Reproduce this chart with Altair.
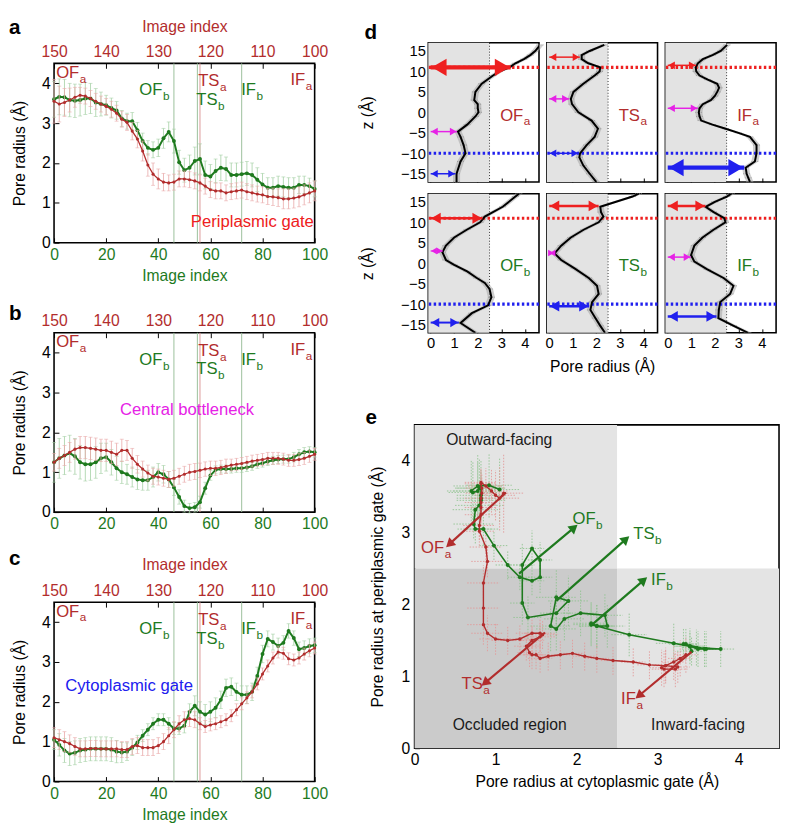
import math
import altair as alt
import numpy as np
import pandas as pd

FONT = "Liberation Sans"
GREEN = "#1e7a1e"
RED = "#b22d2d"
GREEN_LIGHT = "#a3cfa3"
RED_LIGHT = "#e8a6a6"
LINE_GREEN = "#9bbf9b"
LINE_RED = "#dc9a9a"
BRIGHT_RED = "#ee2020"
MAGENTA = "#e622e6"
BLUE = "#2020ee"

# ---------------- panels a-c : image index axes ----------------
img_green = list(range(0, 101, 2))       # bottom axis (green path)
img_red = list(range(150, 99, -1))       # top axis (red path)

a_green = [3.60, 3.66, 3.65, 3.58, 3.56, 3.58, 3.62, 3.62, 3.52, 3.48,
           3.45, 3.38, 3.32, 3.12, 3.05, 3.05, 2.82, 2.55, 2.38, 2.33,
           2.38, 2.62, 2.78, 2.55, 2.02, 1.82, 1.88, 2.05, 2.10, 1.70,
           1.66, 1.80, 1.88, 1.85, 1.70, 1.70, 1.72, 1.74, 1.70, 1.58,
           1.46, 1.38, 1.38, 1.42, 1.40, 1.38, 1.38, 1.45, 1.45, 1.42, 1.35]
a_green_err = [0.45, 0.45, 0.45, 0.42, 0.42, 0.4, 0.4, 0.38, 0.35, 0.3,
               0.25, 0.25, 0.22, 0.2, 0.2, 0.22, 0.2, 0.2, 0.18, 0.2,
               0.22, 0.25, 0.25, 0.3, 0.3, 0.3, 0.32, 0.35, 0.38, 0.35,
               0.3, 0.3, 0.32, 0.3, 0.3, 0.3, 0.3, 0.3, 0.3, 0.3,
               0.28, 0.25, 0.25, 0.25, 0.25, 0.25, 0.25, 0.22, 0.22, 0.2, 0.2]
a_red = [3.55, 3.48, 3.52, 3.58, 3.65, 3.70, 3.68, 3.62, 3.55, 3.48,
         3.42, 3.35, 3.25, 3.10, 3.02, 2.80, 2.60, 2.30, 1.95, 1.72,
         1.60, 1.52, 1.50, 1.52, 1.60, 1.60, 1.58, 1.55, 1.50, 1.42,
         1.33, 1.30, 1.30, 1.25, 1.28, 1.30, 1.32, 1.28, 1.25, 1.22,
         1.20, 1.16, 1.15, 1.13, 1.10, 1.10, 1.12, 1.15, 1.20, 1.25, 1.30]
a_red_err = [0.55, 0.45, 0.35, 0.3, 0.25, 0.2, 0.2, 0.2, 0.2, 0.2,
             0.2, 0.2, 0.2, 0.2, 0.2, 0.22, 0.22, 0.25, 0.28, 0.28,
             0.25, 0.22, 0.2, 0.2, 0.2, 0.2, 0.2, 0.2, 0.2, 0.2,
             0.2, 0.2, 0.2, 0.2, 0.2, 0.2, 0.2, 0.2, 0.2, 0.2,
             0.2, 0.2, 0.22, 0.22, 0.25, 0.25, 0.25, 0.25, 0.25, 0.25, 0.25]

b_green = [1.25, 1.35, 1.42, 1.48, 1.40, 1.25, 1.20, 1.20, 1.25, 1.35,
           1.38, 1.25, 1.10, 1.00, 0.95, 0.88, 0.82, 0.80, 0.80, 0.88,
           1.00, 0.95, 0.82, 0.62, 0.38, 0.15, 0.10, 0.12, 0.25, 0.60,
           0.92, 1.06, 1.08, 1.08, 1.08, 1.10, 1.10, 1.12, 1.15, 1.20,
           1.23, 1.27, 1.30, 1.32, 1.33, 1.33, 1.38, 1.45, 1.50, 1.52, 1.50]
b_green_err = [0.5, 0.5, 0.48, 0.45, 0.45, 0.42, 0.42, 0.4, 0.4, 0.38,
               0.35, 0.32, 0.3, 0.28, 0.25, 0.25, 0.25, 0.25, 0.25, 0.25,
               0.22, 0.22, 0.2, 0.2, 0.18, 0.15, 0.12, 0.12, 0.15, 0.15,
               0.12, 0.1, 0.1, 0.1, 0.1, 0.1, 0.1, 0.1, 0.1, 0.1,
               0.1, 0.1, 0.1, 0.1, 0.1, 0.1, 0.12, 0.12, 0.12, 0.12, 0.12]
b_red = [1.25, 1.35, 1.42, 1.50, 1.58, 1.62, 1.62, 1.60, 1.58, 1.55,
         1.55, 1.50, 1.45, 1.55, 1.55, 1.35, 1.20, 1.08, 0.98, 0.90,
         0.88, 0.85, 0.82, 0.85, 0.90, 0.95, 1.00, 1.02, 1.05, 1.08,
         1.10, 1.10, 1.12, 1.15, 1.18, 1.20, 1.22, 1.25, 1.28, 1.30,
         1.32, 1.35, 1.35, 1.35, 1.33, 1.30, 1.30, 1.32, 1.35, 1.40, 1.45]
b_red_err = [0.22, 0.25, 0.25, 0.25, 0.25, 0.28, 0.28, 0.28, 0.28, 0.28,
             0.28, 0.28, 0.28, 0.28, 0.25, 0.25, 0.22, 0.2, 0.2, 0.2,
             0.2, 0.2, 0.2, 0.2, 0.2, 0.2, 0.2, 0.2, 0.18, 0.18,
             0.18, 0.18, 0.18, 0.18, 0.15, 0.15, 0.15, 0.15, 0.15, 0.15,
             0.15, 0.15, 0.15, 0.15, 0.15, 0.15, 0.15, 0.15, 0.15, 0.15, 0.15]

c_green = [1.05, 0.92, 0.78, 0.70, 0.72, 0.78, 0.80, 0.82, 0.82, 0.82,
           0.82, 0.80, 0.75, 0.73, 0.75, 0.85, 0.98, 1.15, 1.30, 1.45,
           1.55, 1.55, 1.45, 1.33, 1.33, 1.40, 1.75, 1.90, 1.75, 1.68,
           1.75, 1.85, 2.05, 2.35, 2.38, 2.25, 2.18, 2.18, 2.25, 2.65,
           3.20, 3.58, 3.50, 3.40, 3.48, 3.78, 3.60, 3.32, 3.35, 3.40, 3.42]
c_green_err = [0.25, 0.28, 0.3, 0.3, 0.3, 0.3, 0.3, 0.3, 0.3, 0.3,
               0.3, 0.3, 0.28, 0.25, 0.22, 0.2, 0.18, 0.15, 0.15, 0.15,
               0.15, 0.15, 0.15, 0.15, 0.15, 0.18, 0.2, 0.25, 0.25, 0.25,
               0.25, 0.25, 0.22, 0.22, 0.22, 0.22, 0.22, 0.22, 0.22, 0.22,
               0.22, 0.2, 0.2, 0.2, 0.18, 0.18, 0.18, 0.18, 0.18, 0.18, 0.18]
c_red = [1.10, 1.05, 1.00, 0.95, 0.88, 0.82, 0.82, 0.83, 0.83, 0.82,
         0.82, 0.82, 0.82, 0.80, 0.80, 0.88, 0.90, 0.85, 0.85, 0.85,
         0.90, 1.00, 1.15, 1.30, 1.45, 1.55, 1.58, 1.55, 1.45, 1.38,
         1.42, 1.45, 1.50, 1.55, 1.65, 1.80, 1.95, 2.10, 2.25, 2.45,
         2.70, 2.90, 3.10, 3.25, 3.22, 3.08, 3.05, 3.10, 3.20, 3.28, 3.35]
c_red_err = [0.25, 0.25, 0.25, 0.22, 0.22, 0.2, 0.2, 0.2, 0.2, 0.2,
             0.2, 0.2, 0.2, 0.2, 0.2, 0.2, 0.2, 0.2, 0.2, 0.2,
             0.2, 0.2, 0.2, 0.2, 0.2, 0.2, 0.2, 0.2, 0.15, 0.15,
             0.15, 0.15, 0.15, 0.15, 0.15, 0.15, 0.15, 0.15, 0.15, 0.15,
             0.15, 0.15, 0.15, 0.15, 0.15, 0.15, 0.15, 0.15, 0.15, 0.15, 0.15]

state_line_x = [46, 55, 56, 72]
state_line_color = [LINE_GREEN, LINE_GREEN, LINE_RED, LINE_GREEN]
st_main = ["OF", "OF", "TS", "TS", "IF", "IF"]
st_sub = ["a", "b", "a", "b", "b", "a"]
st_x = [0.8, 32.7, 55.3, 54.6, 71.8, 90.7]
st_y = [4.14, 3.70, 3.92, 3.46, 3.70, 3.95]
st_col = [RED, GREEN, RED, GREEN, GREEN, RED]

# ---------------- panel d : pore profiles ----------------
ofa_z = [-17, -15, -12, -10, -8, -6, -4.7, -3, -1, 0, 1, 2, 3, 5, 7, 9, 10, 11, 12, 13, 14, 15, 16.5]
ofa_r = [1.1, 1.1, 1.27, 1.48, 1.4, 1.27, 1.16, 1.55, 1.9, 2.03, 2.0, 2.0, 1.85, 1.9, 2.17, 2.65, 2.92,
         3.35, 3.6, 3.96, 4.23, 4.44, 4.65]
tsa_z = [-17, -15, -13, -11, -10, -8, -6, -4, -2, 0, 2, 3.3, 5, 7, 9, 10, 11, 12, 13, 14, 15, 16.5]
tsa_r = [2.0, 1.72, 1.45, 1.28, 1.31, 1.59, 1.93, 2.07, 1.8, 1.24, 0.97, 0.92, 1.03, 1.45, 1.93, 2.14,
         2.17, 1.66, 1.38, 1.38, 1.72, 2.34]
ifa_z = [-17, -16, -15, -13.5, -12, -10, -8, -6, -5, -4, -3, -2, -1, 0, 1, 2, 3, 4, 5, 6, 7, 8, 9, 10,
         11, 12, 13, 14, 15, 16.5]
ifa_r = [3.49, 3.42, 3.35, 3.31, 3.7, 3.77, 3.77, 3.49, 3.0, 2.46, 1.9, 1.42, 1.35, 1.32, 1.35, 1.49,
         1.83, 2.0, 2.1, 2.18, 2.1, 1.7, 1.35, 1.21, 1.19, 1.28, 1.49, 1.9, 2.25, 2.52]
ofb_z = [-17, -14.6, -12.2, -10.3, -8.3, -6.3, -4.8, -3.6, -2, -0.4, 0.8, 2.7, 4.3, 6.3, 8.25, 10,
         11.4, 13.8, 16.3, 17]
ofb_r = [1.9, 1.27, 1.75, 2.44, 2.58, 2.5, 2.3, 1.96, 1.55, 1.0, 0.65, 0.5, 0.65, 1.0, 1.55, 2.1, 2.3,
         3.06, 3.6, 3.75]
tsb_z = [-17, -15.3, -13.4, -11.4, -9.5, -7.5, -5.5, -3.6, -1.2, 0.8, 2.4, 4.3, 6.3, 8.25, 10, 11.4,
         12.5, 13.8, 16.3, 17]
tsb_r = [2.37, 2.17, 1.96, 1.75, 1.82, 2.1, 2.03, 1.68, 1.06, 0.51, 0.23, 0.51, 0.92, 1.48, 2.1, 2.3,
         2.2, 2.17, 3.54, 3.8]
ifb_z = [-17, -15.3, -13.4, -11.4, -9.5, -7.5, -5.5, -3.6, -1.5, 0.4, 2, 4.3, 6.3, 8.25, 10, 11, 12.5,
         13.8, 15, 16.3, 17]
ifb_r = [3.41, 2.8, 2.15, 2.17, 2.23, 2.65, 2.79, 2.37, 1.68, 1.13, 0.99, 1.13, 1.48, 1.96, 2.45, 2.4,
         1.95, 1.61, 2.0, 2.51, 2.7]

# arrows: (z, radius, colour, line width)
arr_ofa = [(11, 3.4, BRIGHT_RED, 4.5), (-4.7, 1.12, MAGENTA, 1.5), (-15, 1.05, BLUE, 1.5)]
arr_tsa = [(13.5, 1.3, BRIGHT_RED, 1.5), (3.3, 0.85, MAGENTA, 1.5), (-10, 1.25, BLUE, 1.5)]
arr_ifa = [(11.5, 1.2, BRIGHT_RED, 1.5), (1, 1.28, MAGENTA, 1.5), (-13.5, 3.25, BLUE, 4.5)]
arr_ofb = [(11, 2.2, BRIGHT_RED, 2.5), (3, 0.52, MAGENTA, 1.2), (-14.5, 1.2, BLUE, 2.0)]
arr_tsb = [(14, 2.1, BRIGHT_RED, 2.5), (2.5, 0.22, MAGENTA, 1.2), (-10.5, 1.7, BLUE, 2.5)]
arr_ifb = [(14, 1.6, BRIGHT_RED, 2.5), (1.5, 0.98, MAGENTA, 1.5), (-13, 2.07, BLUE, 2.5)]
gate_z = [11, -10]
gate_color = [BRIGHT_RED, BLUE]

# ---------------- panel e ----------------
region_x0 = [0, 0, 2.5]
region_x1 = [2.5, 2.5, 4.5]
region_y0 = [2.5, 0, 0]
region_y1 = [4.5, 2.5, 2.5]
region_fill = ["#e4e4e4", "#cbcbcb", "#e4e4e4"]
region_text = ["Outward-facing", "Occluded region", "Inward-facing"]
region_tx = [0.39, 0.47, 2.92]
region_ty = [4.22, 0.25, 0.25]

e_lab_main = ["OF", "TS", "IF", "OF", "TS", "IF"]
e_lab_sub = ["a", "a", "a", "b", "b", "b"]
e_lab_x = [0.08, 0.58, 2.55, 1.95, 2.70, 2.92]
e_lab_y = [2.72, 0.82, 0.62, 3.12, 2.91, 2.27]
e_lab_col = [RED, RED, RED, GREEN, GREEN, GREEN]
e_arr_x1 = [1.13, 1.61, 3.42, 1.29, 1.75, 2.17]
e_arr_y1 = [3.56, 1.61, 1.34, 2.43, 2.05, 1.70]
e_arr_x2 = [0.43, 0.87, 2.77, 1.97, 2.61, 2.83]
e_arr_y2 = [2.84, 0.91, 0.73, 3.07, 2.91, 2.34]

PW, PH = 266, 183
DW, DH = 113, 142
EW, EH = 372, 330

CHAR_W = {"O": 0.778, "F": 0.611, "T": 0.611, "S": 0.667, "I": 0.278}


def text_width(s, size):
    return sum(CHAR_W.get(ch, 0.556) for ch in s) * size


def spacer(w, h):
    return (alt.Chart(pd.DataFrame({"v": [0]})).mark_point(opacity=0)
            .encode(x=alt.X("v:Q", axis=None), y=alt.Y("v:Q", axis=None))
            .properties(width=w, height=h, view=alt.ViewBackground(strokeOpacity=0)))


def panel_letter(letter, dx, dy):
    # bold panel letter placed relative to the plot's top-left corner
    return (alt.Chart(pd.DataFrame({"t": [letter]}))
            .mark_text(align="left", baseline="top", fontSize=21, fontWeight="bold", color="black")
            .encode(text="t:N", x=alt.value(dx), y=alt.value(dy)))


def label_layers(X, Y, xs, ys, mains, subs, cols, size, subsize):
    out = []
    for x, y, m, s, c in zip(xs, ys, mains, subs, cols):
        df = pd.DataFrame({"x": [x], "y": [y], "m": [m], "s": [s]})
        out.append(alt.Chart(df).mark_text(align="left", baseline="alphabetic", fontSize=size, color=c)
                   .encode(x=X("x"), y=Y("y"), text="m:N"))
        out.append(alt.Chart(df).mark_text(align="left", baseline="alphabetic", fontSize=subsize, color=c,
                                           dx=text_width(m, size) + 0.5, dy=5)
                   .encode(x=X("x"), y=Y("y"), text="s:N"))
    return out


def errs(df, X, Y, color):
    bars = alt.Chart(df).mark_rule(color=color, strokeWidth=0.8).encode(x=X("x"), y=Y("lo"), y2="hi")
    caps = (alt.Chart(df).transform_fold(["lo", "hi"], as_=["k", "v"])
            .mark_tick(orient="horizontal", size=4, thickness=0.8, color=color)
            .encode(x=X("x"), y=Y("v")))
    return [bars, caps]


def gate_panel(letter, g, ge, r, re, gtext, gx, gy, gcol, top_title, bottom_title, ldy):
    ys = alt.Scale(domain=[0, 4.5], nice=False, zero=False)
    yax = alt.Axis(values=[0, 1, 2, 3, 4], title="Pore radius (Å)", offset=-5, labelPadding=4, titlePadding=14)

    def Y(f):
        return alt.Y(f"{f}:Q", scale=ys, axis=yax)

    gax = alt.Axis(values=[0, 20, 40, 60, 80, 100], orient="bottom", labelColor=GREEN, titleColor=GREEN,
                   offset=-5, labelPadding=4, titlePadding=6,
                   title=("Image index" if bottom_title else None))
    gs = alt.Scale(domain=[0, 100], nice=False, zero=False)

    def XG(f):
        return alt.X(f"{f}:Q", scale=gs, axis=gax)

    rax = alt.Axis(values=[150, 140, 130, 120, 110, 100], orient="top", labelColor=RED, titleColor=RED,
                   offset=-5, labelPadding=4, titlePadding=10,
                   title=("Image index" if top_title else None))
    rs = alt.Scale(domain=[100, 150], reverse=True, nice=False, zero=False)

    def XR(f):
        return alt.X(f"{f}:Q", scale=rs, axis=rax)

    gdf = pd.DataFrame({"x": img_green, "y": g,
                        "lo": np.round(np.array(g) - np.array(ge), 3),
                        "hi": np.round(np.array(g) + np.array(ge), 3)})
    rdf = pd.DataFrame({"x": img_red, "y": r,
                        "lo": np.round(np.array(r) - np.array(re), 3),
                        "hi": np.round(np.array(r) + np.array(re), 3)})
    vl = pd.DataFrame({"x": state_line_x, "c": state_line_color})
    tdf = pd.DataFrame({"x": [gx], "y": [gy], "t": [gtext]})

    g_layers = [alt.Chart(vl).mark_rule(strokeWidth=1).encode(x=XG("x"), color=alt.Color("c:N", scale=None))]
    g_layers += errs(gdf, XG, Y, GREEN_LIGHT)
    g_layers += [
        alt.Chart(gdf).mark_line(color=GREEN, strokeWidth=2).encode(x=XG("x"), y=Y("y")),
        alt.Chart(gdf).mark_point(filled=True, size=16, color=GREEN, opacity=1).encode(x=XG("x"), y=Y("y")),
        alt.Chart(tdf).mark_text(align="left", baseline="alphabetic", fontSize=17, color=gcol)
        .encode(x=XG("x"), y=Y("y"), text="t:N"),
    ]
    g_layers += label_layers(XG, Y, st_x, st_y, st_main, st_sub, st_col, 17, 12)
    g_layers.append(panel_letter(letter, -46, ldy))

    r_layers = errs(rdf, XR, Y, RED_LIGHT)
    r_layers += [
        alt.Chart(rdf).mark_line(color=RED, strokeWidth=1.3).encode(x=XR("x"), y=Y("y")),
        alt.Chart(rdf).mark_point(filled=True, size=10, color=RED, opacity=1).encode(x=XR("x"), y=Y("y")),
    ]
    return (alt.layer(alt.layer(*g_layers), alt.layer(*r_layers))
            .resolve_scale(x="independent")
            .properties(width=PW, height=PH))


def d_panel(main, sub, col, z, r, arrows, first_col, bottom_row, mid, letter=None):
    xs = alt.Scale(domain=[-0.1, 4.6], nice=False, zero=False)
    ys = alt.Scale(domain=[-17, 17], nice=False, zero=False)
    xax = alt.Axis(values=[0, 1, 2, 3, 4], labels=bottom_row, offset=-4, tickSize=4, labelPadding=3,
                   labelFontSize=15, titlePadding=8, title=("Pore radius (Å)" if (mid and bottom_row) else None))
    yax = alt.Axis(values=[-15, -10, -5, 0, 5, 10, 15], labels=first_col, offset=-4, tickSize=4,
                   labelPadding=3, labelFontSize=15, titlePadding=25, title=("z (Å)" if first_col else None))

    def X(f):
        return alt.X(f"{f}:Q", scale=xs, axis=xax)

    def Y(f):
        return alt.Y(f"{f}:Q", scale=ys, axis=yax)

    bg = pd.DataFrame({"x0": [-0.1], "x1": [2.5], "z0": [-17], "z1": [17]})
    prof = pd.DataFrame({"z": z, "r": r,
                         "lo": np.round(np.array(r) - 0.15, 3), "hi": np.round(np.array(r) + 0.15, 3)})
    gates = pd.DataFrame({"z": gate_z, "c": gate_color})
    layers = [
        alt.Chart(bg).mark_rect(color="#e3e3e3").encode(x=X("x0"), x2="x1", y=Y("z0"), y2="z1"),
        alt.Chart(pd.DataFrame({"x": [2.5]})).mark_rule(color="black", strokeDash=[1, 2], strokeWidth=0.8)
        .encode(x=X("x")),
        alt.Chart(prof).mark_area(orient="horizontal", color="#a0a0a0", opacity=0.5)
        .encode(y=Y("z"), x=X("lo"), x2="hi"),
        alt.Chart(prof).mark_rule(color="#8a8a8a", strokeWidth=0.7, strokeDash=[1, 1])
        .encode(y=Y("z"), x=X("lo"), x2="hi"),
        alt.Chart(gates).mark_rule(strokeDash=[2.5, 2.5], strokeWidth=3.2)
        .encode(y=Y("z"), color=alt.Color("c:N", scale=None)),
        alt.Chart(prof).mark_line(color="black", strokeWidth=2, clip=True)
        .encode(x=X("r"), y=Y("z"), order=alt.Order("z:Q")),
    ]
    for az, ar, ac, aw in arrows:
        hs = aw * 3.2 + 3
        adf = pd.DataFrame({"x0": [0.0], "r": [ar], "z": [az]})
        layers.append(alt.Chart(adf).mark_rule(color=ac, strokeWidth=aw).encode(x=X("x0"), x2="r", y=Y("z")))
        layers.append(alt.Chart(adf).mark_point(shape="triangle-left", filled=True, opacity=1, color=ac,
                                                size=hs * hs, xOffset=hs / 2)
                      .encode(x=X("x0"), y=Y("z")))
        layers.append(alt.Chart(adf).mark_point(shape="triangle-right", filled=True, opacity=1, color=ac,
                                                size=hs * hs, xOffset=-hs / 2)
                      .encode(x=X("r"), y=Y("z")))
    layers += label_layers(X, Y, [2.95], [-2.0], [main], [sub], [col], 17, 12)
    if letter:
        layers.append(panel_letter(letter, -65, -21))
    return alt.layer(*layers).properties(width=DW, height=DH)


def e_panel():
    sx = alt.Scale(domain=[0, 4.5], nice=False, zero=False)
    sy = alt.Scale(domain=[0, 4.5], nice=False, zero=False)
    xax = alt.Axis(values=[0, 1, 2, 3, 4], title="Pore radius at cytoplasmic gate (Å)", offset=-5,
                   labelPadding=4, titlePadding=6)
    yax = alt.Axis(values=[0, 1, 2, 3, 4], title="Pore radius at periplasmic gate (Å)", offset=-5,
                   labelPadding=5, titlePadding=16)

    def X(f):
        return alt.X(f"{f}:Q", scale=sx, axis=xax)

    def Y(f):
        return alt.Y(f"{f}:Q", scale=sy, axis=yax)

    reg = pd.DataFrame({"x0": region_x0, "x1": region_x1, "y0": region_y0, "y1": region_y1,
                        "c": region_fill})
    regt = pd.DataFrame({"x": region_tx, "y": region_ty, "t": region_text})
    layers = [
        alt.Chart(reg).mark_rect().encode(x=X("x0"), x2="x1", y=Y("y0"), y2="y1",
                                          color=alt.Color("c:N", scale=None)),
        alt.Chart(regt).mark_text(align="left", baseline="alphabetic", fontSize=16, color="#1a1a1a")
        .encode(x=X("x"), y=Y("y"), text="t:N"),
    ]

    def path(cx, cxe, cy, cye, col, light, lw, ps):
        df = pd.DataFrame({"i": list(range(len(cx))), "x": cx, "y": cy,
                           "xl": np.round(np.array(cx) - np.array(cxe), 3),
                           "xh": np.round(np.array(cx) + np.array(cxe), 3),
                           "yl": np.round(np.array(cy) - np.array(cye), 3),
                           "yh": np.round(np.array(cy) + np.array(cye), 3)})
        return [
            alt.Chart(df).mark_rule(color=light, strokeWidth=0.9, strokeDash=[1.5, 1.5])
            .encode(x=X("xl"), x2="xh", y=Y("y")),
            alt.Chart(df).mark_rule(color=light, strokeWidth=0.9, strokeDash=[1.5, 1.5])
            .encode(x=X("x"), y=Y("yl"), y2="yh"),
        ], [
            alt.Chart(df).mark_line(color=col, strokeWidth=lw).encode(x=X("x"), y=Y("y"), order="i:Q"),
            alt.Chart(df).mark_point(filled=True, size=ps, color=col, opacity=1).encode(x=X("x"), y=Y("y")),
        ]

    ge, gl = path(c_green, c_green_err, a_green, a_green_err, GREEN, "#8fc48f", 1.6, 16)
    re_, rl = path(c_red, c_red_err, a_red, a_red_err, RED, "#e39a9a", 1.4, 12)
    layers += ge + re_ + gl + rl

    sxp, syp = EW / 4.5, EH / 4.5
    for x1, y1, x2, y2, c in zip(e_arr_x1, e_arr_y1, e_arr_x2, e_arr_y2, e_lab_col):
        ang = math.degrees(math.atan2((x2 - x1) * sxp, (y2 - y1) * syp)) % 360
        adf = pd.DataFrame({"x": [x1], "y": [y1], "x2": [x2], "y2": [y2]})
        layers.append(alt.Chart(adf).mark_rule(color=c, strokeWidth=2.2)
                      .encode(x=X("x"), y=Y("y"), x2="x2", y2="y2"))
        layers.append(alt.Chart(adf).mark_point(shape="triangle-up", filled=True, opacity=1, color=c,
                                                size=110, angle=round(ang, 1))
                      .encode(x=X("x2"), y=Y("y2")))
    layers += label_layers(X, Y, e_lab_x, e_lab_y, e_lab_main, e_lab_sub, e_lab_col, 17, 12)
    layers.append(panel_letter("e", -50, -18))
    return alt.layer(*layers).properties(width=EW, height=EH)


pa = gate_panel("a", a_green, a_green_err, a_red, a_red_err, "Periplasmic gate", 52.5, 0.39, BRIGHT_RED,
                True, True, -47)
pb = gate_panel("b", b_green, b_green_err, b_red, b_red_err, "Central bottleneck", 25.3, 2.43, MAGENTA,
                False, False, -30)
pc = gate_panel("c", c_green, c_green_err, c_red, c_red_err, "Cytoplasmic gate", 4.3, 2.26, BLUE,
                True, True, -55)

abc = alt.vconcat(pa, pb, pc, spacing=92, bounds="flush")
left = alt.vconcat(spacer(1, 1), abc, spacing=20, bounds="flush")

d1 = d_panel("OF", "a", RED, ofa_z, ofa_r, arr_ofa, True, False, False, letter="d")
d2 = d_panel("TS", "a", RED, tsa_z, tsa_r, arr_tsa, False, False, False)
d3 = d_panel("IF", "a", RED, ifa_z, ifa_r, arr_ifa, False, False, False)
d4 = d_panel("OF", "b", GREEN, ofb_z, ofb_r, arr_ofb, True, True, False)
d5 = d_panel("TS", "b", GREEN, tsb_z, tsb_r, arr_tsb, False, True, True)
d6 = d_panel("IF", "b", GREEN, ifb_z, ifb_r, arr_ifb, False, True, False)

dtop = alt.hconcat(d1, d2, d3, spacing=8, bounds="flush")
dbot = alt.hconcat(d4, d5, d6, spacing=8, bounds="flush")
dgrid = alt.vconcat(dtop, dbot, spacing=8)
dwrap = alt.hconcat(spacer(1, 1), dgrid, spacing=13, bounds="flush")

right = alt.vconcat(dwrap, e_panel(), spacing=32)

chart = (alt.hconcat(left, right, spacing=30)
         .properties(padding={"left": 0, "top": 0, "right": 0, "bottom": 0})
         .configure(font=FONT)
         .configure_view(stroke="black", strokeWidth=1.6)
         .configure_axis(domain=False, grid=False, tickColor="black", tickSize=5, tickWidth=1,
                         labelFontSize=16, titleFontSize=16, titleFontWeight="normal",
                         labelColor="black", titleColor="black", labelFont=FONT, titleFont=FONT,
                         labelFlush=False, labelOverlap=False))

chart.save("out.html", embed_options={"renderer": "svg", "actions": False})
